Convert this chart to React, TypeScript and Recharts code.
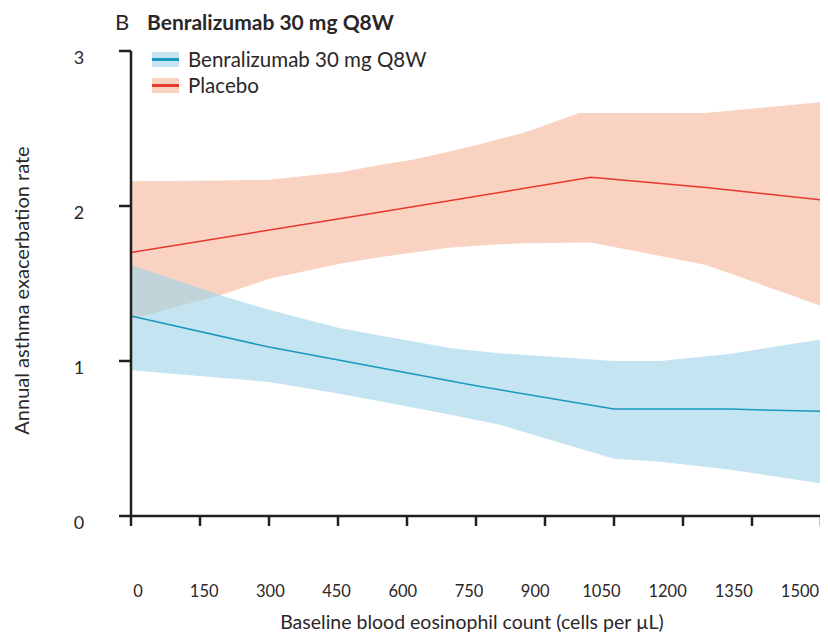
import React from "react";
import {
  ComposedChart,
  Area,
  Line,
  XAxis,
  YAxis,
  Legend,
  Customized,
} from "recharts";

// ---- Data ----
const xTicks = [0, 150, 300, 450, 600, 750, 900, 1050, 1200, 1350, 1500];
const yTicks = [0, 1, 2, 3];

// Placebo
const placeboLineX = [0, 500, 1000, 1250, 1500];
const placeboLineY = [1.7, 1.94, 2.185, 2.12, 2.04];
const placeboBandX = [0, 200, 300, 460, 540, 615, 690, 760, 850, 880, 975, 1000, 1250, 1500];
const placeboBandLow = [1.27, 1.43, 1.53, 1.63, 1.67, 1.7, 1.73, 1.745, 1.76, 1.76, 1.765, 1.765, 1.62, 1.355];
const placeboBandHigh = [2.16, 2.165, 2.17, 2.22, 2.265, 2.3, 2.35, 2.4, 2.47, 2.5, 2.6, 2.6, 2.6, 2.67];

// Benralizumab 30 mg Q8W
const benraLineX = [0, 300, 750, 1050, 1300, 1500];
const benraLineY = [1.29, 1.09, 0.84, 0.69, 0.69, 0.675];
const benraBandX = [0, 200, 300, 450, 550, 700, 800, 1050, 1150, 1300, 1500];
const benraBandLow = [0.94, 0.89, 0.865, 0.79, 0.735, 0.65, 0.59, 0.37, 0.35, 0.3, 0.21];
const benraBandHigh = [1.62, 1.42, 1.33, 1.215, 1.16, 1.08, 1.05, 1.0, 1.0, 1.045, 1.14];

const seriesNames = ["Benralizumab 30 mg Q8W", "Placebo"];

// ---- Styling ----
const FONT = "Lato, 'Open Sans', sans-serif";
const TEXT = "#2b2628";
const AXIS = "#231f20";
const RED_LINE = "#e5372c";
const RED_FILL = "#fad2c1";
const BLUE_LINE = "#1a98c0";
const BLUE_FILL = "rgb(163,213,232)";
const BLUE_FILL_OPACITY = 0.65;

const placeboLine = placeboLineX.map((x, i) => ({ x, y: placeboLineY[i] }));
const placeboBand = placeboBandX.map((x, i) => ({ x, range: [placeboBandLow[i], placeboBandHigh[i]] }));
const benraLine = benraLineX.map((x, i) => ({ x, y: benraLineY[i] }));
const benraBand = benraBandX.map((x, i) => ({ x, range: [benraBandLow[i], benraBandHigh[i]] }));

const XTick = (props: any) => {
  const { x, payload } = props;
  const v = payload.value as number;
  const shift = 7 - (28 * v) / 1500;
  return (
    <text x={x + shift} y={589} textAnchor="middle" fontFamily={FONT} fontSize={16.5} fill={TEXT}>
      {v}
    </text>
  );
};

const YTick = (props: any) => {
  const { y, payload } = props;
  return (
    <text x={71} y={y + 13} textAnchor="middle" fontFamily={FONT} fontSize={18} fill={TEXT}>
      {payload.value}
    </text>
  );
};

const LegendContent = () => (
  <svg width={340} height={58} style={{ display: "block" }}>
    <rect x={1} y={4} width={27} height={15} fill={BLUE_FILL} fillOpacity={BLUE_FILL_OPACITY} />
    <line x1={1} x2={28} y1={11.5} y2={11.5} stroke={BLUE_LINE} strokeWidth={3} />
    <text x={37} y={19} fontFamily={FONT} fontSize={20.5} fill={TEXT}>
      {seriesNames[0]}
    </text>
    <rect x={1} y={30} width={27} height={15} fill={RED_FILL} />
    <line x1={1} x2={28} y1={37.5} y2={37.5} stroke={RED_LINE} strokeWidth={3} />
    <text x={37} y={45} fontFamily={FONT} fontSize={20.5} fill={TEXT}>
      {seriesNames[1]}
    </text>
  </svg>
);

const Title = () => (
  <g>
    <text x={107} y={22} fontFamily={FONT} fontSize={22} fill={TEXT}>
      B
    </text>
    <text x={139} y={22} fontFamily={FONT} fontSize={21} fontWeight={700} fill={TEXT}>
      Benralizumab 30 mg Q8W
    </text>
  </g>
);

const YLabel = (props: any) => {
  const vb = props.viewBox || { x: 0, y: 43, width: 123, height: 465 };
  const cx = 13;
  const cy = vb.y + vb.height / 2 + 7;
  return (
    <text
      x={cx}
      y={cy}
      transform={`rotate(-90, ${cx}, ${cy})`}
      textAnchor="middle"
      dominantBaseline="central"
      fontFamily={FONT}
      fontSize={20}
      fill={TEXT}
    >
      Annual asthma exacerbation rate
    </text>
  );
};

const XLabel = () => (
  <text x={464} y={621} textAnchor="middle" fontFamily={FONT} fontSize={19.5} fill={TEXT}>
    Baseline blood eosinophil count (cells per µL)
  </text>
);

export default function App() {
  return (
    <ComposedChart
      width={820}
      height={628}
      margin={{ top: 43, right: 7, bottom: 10, left: 0 }}
      style={{ fontFamily: FONT }}
    >
      <XAxis
        type="number"
        dataKey="x"
        domain={[0, 1500]}
        ticks={xTicks}
        interval={0}
        height={110}
        tickSize={10}
        tickMargin={2}
        axisLine={{ stroke: AXIS, strokeWidth: 2.5 }}
        tickLine={{ stroke: AXIS, strokeWidth: 2.5 }}
        tick={<XTick />}
        label={<XLabel />}
        allowDuplicatedCategory={false}
      />
      <YAxis
        type="number"
        domain={[0, 3]}
        ticks={yTicks}
        width={123}
        tickSize={12}
        tickMargin={0}
        axisLine={{ stroke: AXIS, strokeWidth: 2.5 }}
        tickLine={{ stroke: AXIS, strokeWidth: 2.5 }}
        tick={<YTick />}
        label={<YLabel />}
      />
      <Area
        data={placeboBand}
        dataKey="range"
        type="linear"
        stroke="none"
        fill={RED_FILL}
        fillOpacity={1}
        isAnimationActive={false}
        legendType="none"
      />
      <Area
        data={benraBand}
        dataKey="range"
        type="linear"
        stroke="none"
        fill={BLUE_FILL}
        fillOpacity={BLUE_FILL_OPACITY}
        isAnimationActive={false}
        legendType="none"
      />
      <Line
        data={placeboLine}
        dataKey="y"
        name={seriesNames[1]}
        type="linear"
        stroke={RED_LINE}
        strokeWidth={1.5}
        dot={false}
        isAnimationActive={false}
      />
      <Line
        data={benraLine}
        dataKey="y"
        name={seriesNames[0]}
        type="linear"
        stroke={BLUE_LINE}
        strokeWidth={1.5}
        dot={false}
        isAnimationActive={false}
      />
      <Legend
        layout="horizontal"
        verticalAlign="middle"
        align="center"
        content={<LegendContent />}
        wrapperStyle={{ left: 143, top: 40, width: 340, height: 58 }}
      />
      <Customized component={<Title />} />
    </ComposedChart>
  );
}
